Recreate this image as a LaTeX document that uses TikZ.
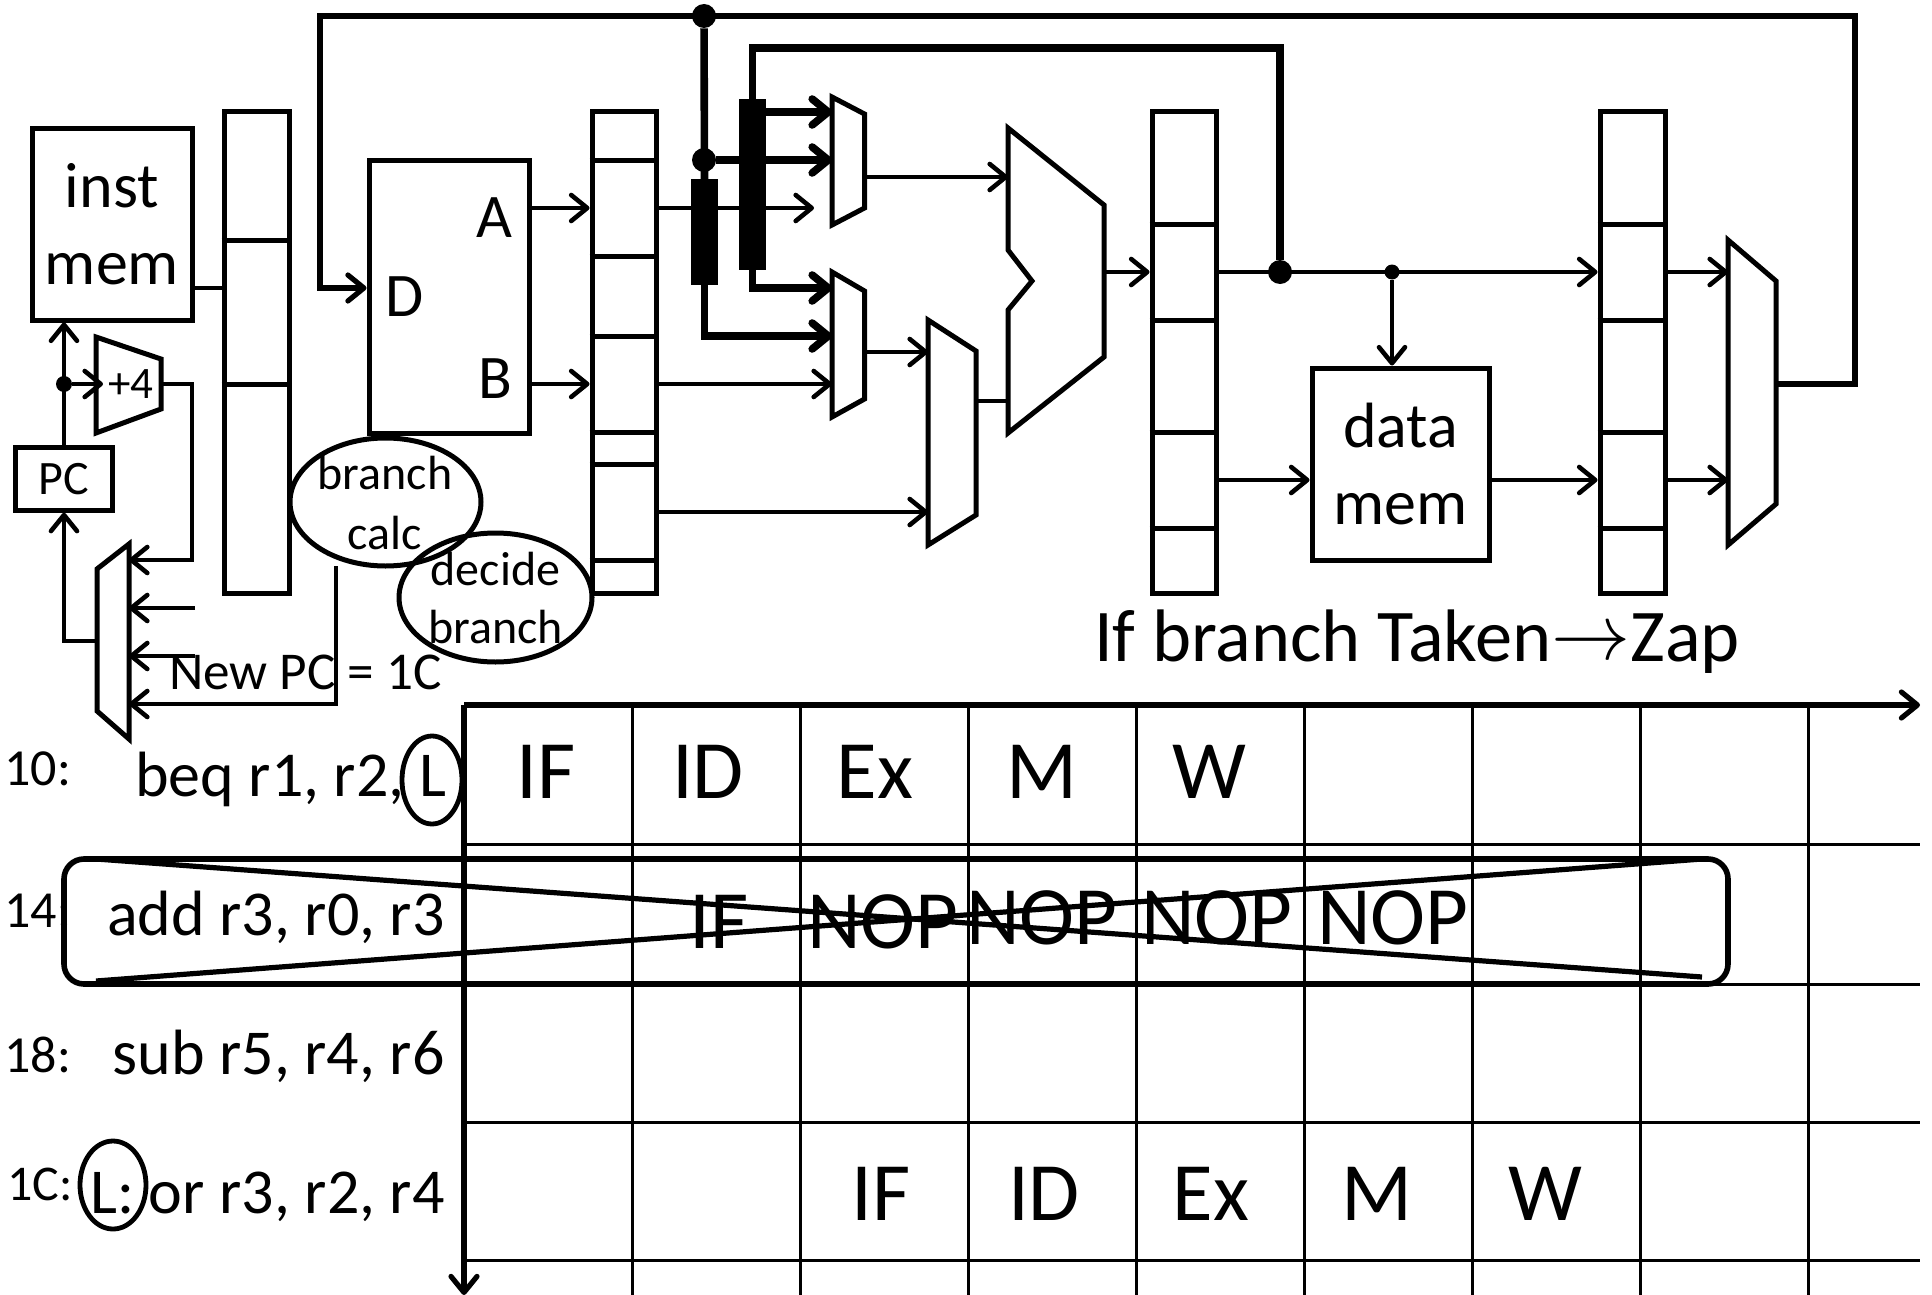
\documentclass[tikz,border=0pt]{standalone}
\usepackage{fontspec}
\setmainfont{Carlito}
\usetikzlibrary{arrows.meta,shapes.geometric}

\tikzset{
  >={Straight Barb[length=8pt,width=13pt,round]},
  regline/.style={draw,line width=2.5pt},
  block/.style={draw,line width=2.5pt,inner sep=0pt,align=center},
  muxline/.style={draw,line width=2.5pt,line join=miter},
  port/.style={inner sep=0pt,outer sep=0pt},
  wire/.style={line width=2.3pt},
  feedback/.style={line width=2.6pt},
  bypass/.style={line width=3.8pt},
  solder/.style={circle,fill=black,inner sep=0pt},
  latchbar/.style={fill=black,inner sep=0pt,outer sep=0pt},
  oval/.style={ellipse,draw,line width=2.5pt,inner sep=0pt},
  gridline/.style={line width=1.5pt},
  axisline/.style={line width=2.6pt},
  tag/.style={inner sep=0pt,outer sep=0pt},
  stage/.style={inner sep=0pt,anchor=base,font=\fontsize{41.5}{41.5}\selectfont},
  instr/.style={inner sep=0pt,anchor=base east,font=\fontsize{32}{32}\selectfont},
  addr/.style={inner sep=0pt,anchor=base west,font=\fontsize{26}{26}\selectfont},
}

\newcommand{\muxat}[7]{
  \draw[muxline] (#2,#4) -- (#3,#5) -- (#3,#6) -- (#2,#7) -- cycle;
  \node[port,minimum width={(#3-#2)*0.5pt},minimum height={(#7-#4)*0.5pt}] (#1) at ({(#2+#3)/2},{(#4+#7)/2}) {};
}

\begin{document}
\begin{tikzpicture}[x=0.5pt,y=-0.5pt]
  \useasboundingbox (0,0) rectangle (1932,1295);

  \foreach \y in {16,48,112,160,177,208,272,288,336,352,384,401,480,512,560,608,641,656,704}
    \coordinate (y\y) at (0,\y);

  \node[block,minimum width=80pt,minimum height=95.5pt,font=\fontsize{32}{38.5}\selectfont] (imem) at (112,224.5) {\raisebox{-1pt}{inst}\\\raisebox{-1pt}{mem}};
  \node[block,minimum width=48.25pt,minimum height=31.25pt,font=\fontsize{24}{24}\selectfont] (pc) at (64,479) {PC};
  \node[block,minimum width=80pt,minimum height=136.5pt] (rf) at (449,296.5) {};
  \node[block,minimum width=88.5pt,minimum height=96pt,font=\fontsize{32}{38.5}\selectfont] (dmem) at (1400.5,464) {\raisebox{-1pt}{data}\\\raisebox{-1pt}{mem}};
  \node[tag,anchor=base,font=\fontsize{31}{31}\selectfont] (rfa) at (494,237) {A};
  \node[tag,anchor=base,font=\fontsize{31}{31}\selectfont] (rfb) at (495,398) {B};
  \node[tag,anchor=base,font=\fontsize{31}{31}\selectfont] (rfd) at (405,316) {D};

  \node[block,minimum width=32.5pt,minimum height=240.5pt] (ifid) at (256.5,352.5) {};
  \node[block,minimum width=32pt,minimum height=240.5pt] (idex) at (624,352.5) {};
  \node[block,minimum width=32pt,minimum height=240.5pt] (exmem) at (1184,352.5) {};
  \node[block,minimum width=32.5pt,minimum height=240.5pt] (memwb) at (1632.5,352.5) {};
  \foreach \y in {240,384}
    \draw[regline] (ifid.west |- 0,\y) -- (ifid.east |- 0,\y);
  \foreach \y in {160,256,336,432,464,560}
    \draw[regline] (idex.west |- 0,\y) -- (idex.east |- 0,\y);
  \foreach \y in {224,320,432,528}
    \draw[regline] (exmem.west |- 0,\y) -- (exmem.east |- 0,\y);
  \foreach \y in {224,320,432,528}
    \draw[regline] (memwb.west |- 0,\y) -- (memwb.east |- 0,\y);

  \muxat{incr}{96}{161}{337}{359}{409}{433}
  \node[tag,font=\fontsize{22.5}{22.5}\selectfont] (incrtext) at (131,384) {+4};
  \muxat{pcmux}{97}{129}{569}{544}{739}{711}
  \muxat{mone}{832}{864.5}{97}{114}{208}{225}
  \muxat{mtwo}{832}{864.5}{272}{291}{399}{417}
  \muxat{mthree}{928}{976}{320}{351}{515}{545}
  \muxat{mwb}{1728}{1776}{240}{281}{504}{545}
  \draw[muxline] (1008,128) -- (1104,205) -- (1104,357) -- (1008,433) -- (1008,310) -- (1032,281) -- (1008,250) -- cycle;
  \node[port,minimum width=48pt,minimum height=152.5pt] (alu) at (1056,281) {};

  \coordinate (wbright) at (1855,16);
  \coordinate (wbleft) at (320,16);
  \coordinate (fwdtop) at (1280,48);
  \coordinate (fwdend) at (814,208);
  \coordinate (incrin) at (103,384);
  \coordinate (incrdrop) at (192,384);
  \coordinate (stubup) at (195,608);
  \coordinate (stubdown) at (195,656);
  \coordinate (newpc) at (336,566);

  \node[solder,minimum size=12pt] (hubtop) at (704,16) {};
  \node[solder,minimum size=12pt] (hubmid) at (704,160) {};
  \node[solder,minimum size=12pt] (fwdtap) at (1280,272) {};
  \node[solder,minimum size=7.5pt] (memtap) at (1392,272) {};
  \node[solder,minimum size=8pt] (pctap) at (64,384) {};
  \node[latchbar,minimum width=13.5pt,minimum height=53pt] (barone) at (704.5,232) {};
  \node[latchbar,minimum width=13.5pt,minimum height=85.5pt] (bartwo) at (752.5,184.5) {};

  \path[wire,->]
    (rf.east |- y208) edge (idex.west |- y208)
    (rf.east |- y384) edge (idex.west |- y384)
    (idex.east |- y208) edge (fwdend)
    (idex.east |- y384) edge (mtwo.west |- y384)
    (idex.east |- y512) edge (mthree.west |- y512)
    (mone.east |- y177) edge (alu.west |- y177)
    (mtwo.east |- y352) edge (mthree.west |- y352)
    (alu.east |- y272) edge (exmem.west |- y272)
    (exmem.east |- y272) edge (memwb.west |- y272)
    (exmem.east |- y480) edge (dmem.west |- y480)
    (dmem.east |- y480) edge (memwb.west |- y480)
    (memwb.east |- y272) edge (mwb.west |- y272)
    (memwb.east |- y480) edge (mwb.west |- y480)
    (memtap) edge (memtap |- dmem.north)
    (pc.north) edge (pc.north |- imem.south)
    (pctap) edge (incrin)
    (stubup) edge (pcmux.east |- y608)
    (stubdown) edge (pcmux.east |- y656);
  \draw[wire] (imem.east |- y288) -- (ifid.west |- y288);
  \draw[wire] (mthree.east |- y401) -- (alu.west |- y401);
  \draw[wire,->] (incr.east |- y384) -- (incrdrop) |- (pcmux.east |- y560);
  \draw[wire,->] (newpc) |- (pcmux.east |- y704);
  \draw[wire,->] (pcmux.west |- y641) -| (pc.south);
  \draw[feedback,->] (mwb.east |- y384) -| (wbright) -- (wbleft) |- (rf.west |- y288);
  \draw[bypass] (hubtop) -- (barone.north);
  \draw[bypass,->] (barone.south) |- (mtwo.west |- y336);
  \draw[bypass,->] (hubmid) -- (mone.west |- y160);
  \draw[bypass] (fwdtap) -- (fwdtop) -| (bartwo.north);
  \draw[bypass,->] (bartwo.east |- y112) -- (mone.west |- y112);
  \draw[bypass,->] (bartwo.south) |- (mtwo.west |- y288);
  \node[latchbar,minimum width=13.5pt,minimum height=53pt] at (barone) {};
  \node[latchbar,minimum width=13.5pt,minimum height=85.5pt] at (bartwo) {};

  \node[oval,minimum width=95.5pt,minimum height=64pt] (calc) at (385.5,502) {};
  \node[tag,align=center,font=\fontsize{24}{30}\selectfont] (calctext) at (385,503) {branch\\calc};
  \node[oval,minimum width=96.5pt,minimum height=64.5pt] (decide) at (495.5,597.5) {};
  \node[tag,align=center,font=\fontsize{24}{29}\selectfont] (decidetext) at (495.5,598) {decide\\branch};
  \node[tag,anchor=base west,font=\fontsize{26.6}{26.6}\selectfont] (newpctext) at (169,689) {New PC = 1C};
  \node[tag,anchor=base west,font=\fontsize{37.2}{37.2}\selectfont] (zapnote) at (1094,661) {If branch Taken\raisebox{1pt}{\scalebox{3.95}{\fontsize{10}{10}\selectfont$\rightarrow$}}Zap};

  \foreach \x in {632,800,...,1808}
    \draw[gridline] (\x,705) -- (\x,1295);
  \foreach \y in {844,984,1122,1260}
    \draw[gridline] (464,\y) -- (1920,\y);
  \coordinate (origin) at (464,705);
  \coordinate (timeend) at (1920,705);
  \coordinate (rowend) at (464,1295);
  \draw[axisline,->] (origin) -- (timeend);
  \draw[axisline,->] (origin) -- (rowend);

  \node[addr] (lten) at (4,785) {10:};
  \node[addr] (lfourteen) at (4,927) {14:};
  \node[addr] (leighteen) at (4,1072) {18:};
  \node[addr,font=\fontsize{25}{25}\selectfont] (lonec) at (7,1200) {1C:};
  \node[instr] (beq) at (405,796) {beq r1, r2,};
  \node[instr] (add) at (445,935) {add r3, r0, r3};
  \node[instr] (sub) at (445,1074) {sub r5, r4, r6};
  \node[instr] (or) at (445,1213) {or r3, r2, r4};
  \node[oval,minimum width=30pt,minimum height=44pt,line width=2.4pt] (tgtref) at (432,780) {};
  \node[instr,anchor=base] (tgtreftext) at (433,796) {L};
  \node[oval,minimum width=33pt,minimum height=44pt,line width=2.4pt] (tgtdef) at (113,1185) {};
  \node[instr,anchor=base] (tgtdeftext) at (113,1213) {L:};

  \foreach \x/\t in {546/IF,708/ID,875/Ex,1042/M,1209/W}
    \node[stage] (first\t) at (\x,798) {\t};
  \foreach \x/\y/\t/\n in {719/948/IF/a,883/948/NOP/b,1042/944/NOP/c,1217/944/NOP/d,1393/944/NOP/e}
    \node[stage] (second\n) at (\x,\y) {\t};
  \foreach \x/\t in {881/IF,1044/ID,1211/Ex,1377/M,1545/W}
    \node[stage] (fourth\t) at (\x,1220) {\t};

  \node[draw,line width=2.8pt,rounded corners=10pt,inner sep=0pt,minimum width=832pt,minimum height=62.5pt] (zapbox) at (896,921.5) {};
  \coordinate (crossa) at (96,859);
  \coordinate (crossb) at (1702,977);
  \coordinate (crossc) at (96,981);
  \coordinate (crossd) at (1702,859);
  \draw[axisline] (crossa) -- (crossb);
  \draw[axisline] (crossc) -- (crossd);
\end{tikzpicture}
\end{document}
